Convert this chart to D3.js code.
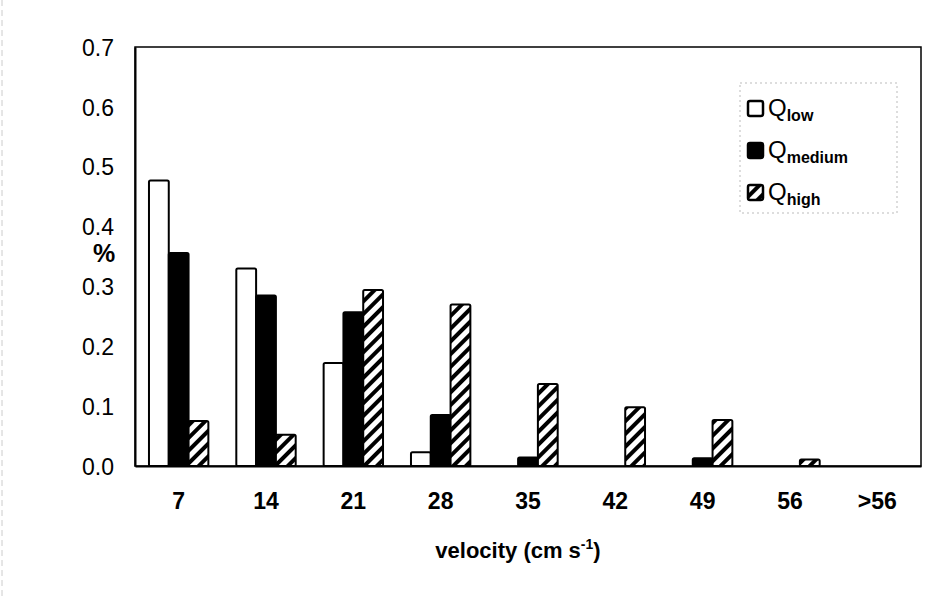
<!DOCTYPE html>
<html><head><meta charset="utf-8">
<script src="https://cdn.jsdelivr.net/npm/d3@7/dist/d3.min.js"></script>
<style>body{margin:0;background:#fff}svg{display:block}text{font-family:"Liberation Sans",Arial,sans-serif}</style>
</head><body>
<svg id="c" width="927" height="597"></svg>
<script>
const categories = ["7","14","21","28","35","42","49","56",">56"];
const qLow    = [0.477,0.330,0.172,0.023,0,0,0,0,0];
const qMedium = [0.356,0.285,0.257,0.085,0.014,0,0.013,0,0];
const qHigh   = [0.075,0.052,0.294,0.270,0.137,0.098,0.077,0.011,0];
const seriesNames = ["low","medium","high"];
const yTicks = [0,0.1,0.2,0.3,0.4,0.5,0.6,0.7];

const svg = d3.select("#c");
const m = {l:135, t:47, r:921, b:466};
const x = d3.scaleBand().domain(categories).range([m.l, m.r]).paddingInner(0.32).paddingOuter(0.16);
const xs = d3.scaleBand().domain(seriesNames).range([0, x.bandwidth()]);
const y = d3.scaleLinear().domain([0,0.7]).range([m.b, m.t]);

const defs = svg.append("defs");
const pat = defs.append("pattern").attr("id","hatch").attr("patternUnits","userSpaceOnUse")
  .attr("width",9).attr("height",9).attr("patternTransform","rotate(45)");
pat.append("rect").attr("width",9).attr("height",9).attr("fill","#fff");
pat.append("rect").attr("x",0).attr("width",4).attr("height",9).attr("fill","#000");

// faint scan edge
svg.append("line").attr("x1",2).attr("x2",2).attr("y1",0).attr("y2",597).attr("stroke","#ccc").attr("stroke-dasharray","6,4");

// frame
svg.append("rect").attr("x",m.l).attr("y",m.t).attr("width",m.r-m.l).attr("height",m.b-m.t)
  .attr("fill","none").attr("stroke","#000").attr("stroke-width",1.5);

// y axis
const yAxis = d3.axisLeft(y).tickValues(yTicks).tickFormat(d3.format(".1f")).tickSize(0).tickPadding(21);
const ga = svg.append("g").attr("transform",`translate(${m.l},0)`).call(yAxis);
ga.select(".domain").attr("stroke","#000").attr("stroke-width",2);
ga.selectAll("text").attr("font-size",23).attr("fill","#000").attr("dy","0.36em");

// x axis
const xAxis = d3.axisBottom(x).tickSize(0).tickPadding(27);
const gx = svg.append("g").attr("transform",`translate(0,${m.b})`).call(xAxis);
gx.select(".domain").attr("stroke","#000").attr("stroke-width",2);
gx.selectAll("text").attr("font-size",23).attr("font-weight","bold").attr("fill","#000");

const fills = {low:"#fff", medium:"#000", high:"url(#hatch)"};
const data = {low:qLow, medium:qMedium, high:qHigh};
seriesNames.forEach(s => {
  svg.append("g").selectAll("rect").data(categories.map((c,i)=>({c, v:data[s][i]})).filter(d=>d.v>0))
    .join("rect")
    .attr("x", d => x(d.c) + xs(s))
    .attr("y", d => y(d.v))
    .attr("width", xs.bandwidth())
    .attr("height", d => y(0) - y(d.v))
    .attr("rx",1.5)
    .attr("fill", fills[s]).attr("stroke","#000").attr("stroke-width",2);
});

// axis titles
svg.append("text").attr("x",104).attr("y",262).attr("text-anchor","middle")
  .attr("font-size",25).attr("font-weight","bold").text("%");
const xt = svg.append("text").attr("x",518).attr("y",558).attr("text-anchor","middle")
  .attr("font-size",22).attr("font-weight","bold");
xt.append("tspan").text("velocity (cm s");
xt.append("tspan").attr("dy",-9).attr("font-size",14).text("-1");
xt.append("tspan").attr("dy",9).text(")");

// legend
const lg = svg.append("g");
lg.append("rect").attr("x",740).attr("y",83).attr("width",157).attr("height",130)
  .attr("fill","#fff").attr("stroke","#bbb").attr("stroke-width",1).attr("stroke-dasharray","2,3");
seriesNames.forEach((s,i) => {
  const cy = 108 + i*42;
  lg.append("rect").attr("x",748).attr("y",cy-7).attr("width",15).attr("height",15).attr("rx",2)
    .attr("fill",fills[s]).attr("stroke","#000").attr("stroke-width",2.5);
  const t = lg.append("text").attr("x",768).attr("y",cy+8).attr("font-size",24).attr("fill","#000");
  t.append("tspan").text("Q");
  t.append("tspan").attr("dy",5).attr("font-size",16).attr("font-weight","bold").text(s);
});
</script>
</body></html>
